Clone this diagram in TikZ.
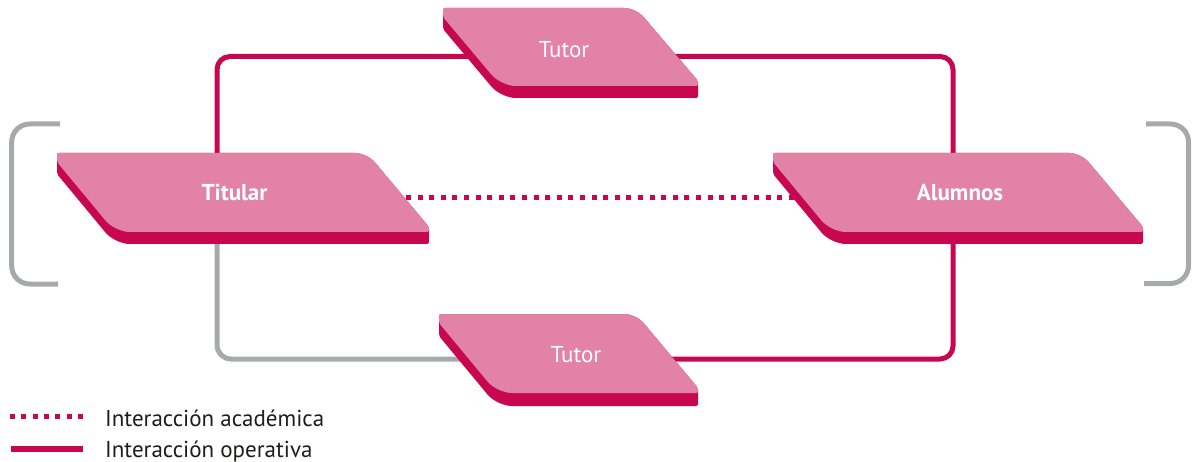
\documentclass[tikz,border=0pt]{standalone}
\usepackage{fontspec}
\setmainfont{PT Sans}
\definecolor{face}{RGB}{225,130,166}
\definecolor{deep}{RGB}{199,8,80}
\definecolor{greyline}{RGB}{167,169,172}
\definecolor{ink}{RGB}{29,29,27}
\tikzset{
  opline/.style={draw=deep,line width=5,rounded corners=13},
  greyconn/.style={draw=greyline,line width=5,rounded corners=14},
  acadline/.style={draw=deep,line width=5,dash pattern=on 5 off 6.6},
  bracketline/.style={draw=greyline,line width=5,rounded corners=18},
  slabtext/.style={text=white,inner sep=0,anchor=base,font=\fontsize{23}{27}\selectfont},
  legendtext/.style={text=ink,inner sep=0,anchor=base west,font=\fontsize{23}{27}\selectfont}
}
% #1 x0, #2 y0, #3 xR, #4 H, #5 depth
\newcommand\slabshape[5]{%
  \fill[deep] (#1,#2) [rounded corners=12] -- ({#3-62},#2) [rounded corners=2] -- (#3,{#2+#4-5}) -- (#3,{#2+#4+#5}) [rounded corners=15] -- ({#1+58},{#2+#4+#5}) [rounded corners=2] -- (#1,{#2+9+#5}) -- cycle;
  \fill[face] (#1,#2) [rounded corners=12] -- ({#3-62},#2) [rounded corners=2] -- (#3,{#2+#4-5}) -- (#3,{#2+#4}) [rounded corners=15] -- ({#1+58},{#2+#4}) [rounded corners=2] -- (#1,{#2+9}) -- cycle;
}
\begin{document}
\begin{tikzpicture}[x=1pt,y=-1pt]
\useasboundingbox (0,0) rectangle (1196,462);
% connection points
\coordinate (titN) at (217,180);
\coordinate (titS) at (217,225);
\coordinate (titE) at (394.4,198);
\coordinate (aluN) at (953,180);
\coordinate (aluS) at (953,225);
\coordinate (aluW) at (800,198);
\coordinate (tutAW) at (480,56.5);
\coordinate (tutAE) at (660,56.5);
\coordinate (tutBW) at (480,359);
\coordinate (tutBE) at (660,359);
% connectors
\draw[opline] (titN) |- (tutAW);
\draw[opline] (tutAE) -| (aluN);
\draw[opline] (aluS) |- (tutBE);
\draw[greyconn] (titS) |- (tutBW);
\draw[acadline] (titE) -- (aluW);
% shapes
\slabshape{57}{153}{429}{79}{12}
\slabshape{773}{153}{1143}{79}{12}
\slabshape{443}{8}{698}{78}{12}
\slabshape{439}{314}{698}{79}{13}
% labels
\node[slabtext,font=\fontsize{23}{27}\selectfont\bfseries] (titular) at (234.5,200.7) {Titular};
\node[slabtext,font=\fontsize{23}{27}\selectfont\bfseries] (alumnos) at (960,200.7) {Alumnos};
\node[slabtext] (tutorA) at (564,57.7) {Tutor};
\node[slabtext] (tutorB) at (576,362.7) {Tutor};
% brackets
\draw[bracketline] (60,124) -- (11.7,124) -- (11.7,284) -- (58,284);
\draw[bracketline] (1146,124) -- (1188.5,124) -- (1188.5,283.5) -- (1144,283.5);
% legend
\coordinate (legA1) at (10,416);
\coordinate (legA2) at (83,416);
\coordinate (legB1) at (10.7,449);
\coordinate (legB2) at (82.7,449);
\draw[draw=deep,line width=5,dash pattern=on 5 off 6.3] (legA1) -- (legA2);
\draw[draw=deep,line width=6] (legB1) -- (legB2);
\node[legendtext] (legacad) at (105,426) {Interacción académica};
\node[legendtext] (legop) at (105,457) {Interacción operativa};
\end{tikzpicture}
\end{document}
